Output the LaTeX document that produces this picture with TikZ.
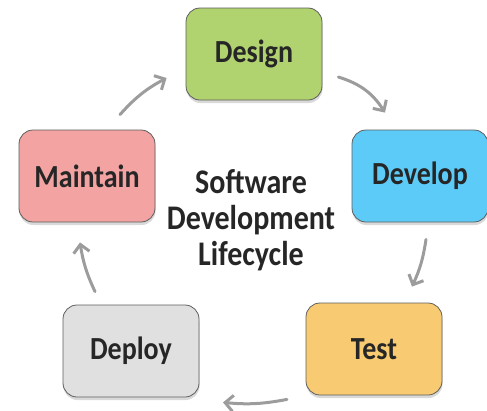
\documentclass[tikz,border=0pt]{standalone}
\usepackage{fontspec}
\setmainfont{Carlito}
\usepackage{xcolor}
\usepackage{tikz}
\usetikzlibrary{
  arrows.meta,
  shadows
}

\definecolor{designgreen}{HTML}{B0D36F}
\definecolor{developblue}{HTML}{5CCBF8}
\definecolor{testorange}{HTML}{F8CB72}
\definecolor{deploygray}{HTML}{E0E0E0}
\definecolor{maintainpink}{HTML}{F2A3A2}
\definecolor{boxline}{HTML}{5E5E5E}
\definecolor{arrowgray}{HTML}{9C9C9C}
\definecolor{inkgray}{HTML}{262626}

\newcommand{\tallword}[1]{\scalebox{1}[1.15]{#1}}

\tikzset{
  phase/.style={
    rectangle,
    rounded corners=14pt,
    draw=boxline,
    line width=0.8pt,
    minimum width=136pt,
    minimum height=92pt,
    text=inkgray,
    font=\fontsize{28}{34}\selectfont\bfseries,
    drop shadow={shadow xshift=0.5pt, shadow yshift=-3pt, opacity=0.3}
  },
  flow/.style={
    draw=arrowgray,
    line width=3pt,
    line cap=round,
    -{Straight Barb[length=8pt,width=16pt,line width=3pt]}
  }
}

\begin{document}
\begin{tikzpicture}[x=1pt,y=-1pt]

\useasboundingbox (0,0) rectangle (487,410);

% the five phases
\node[phase, fill=designgreen]  (design)   at (254,54)  {\tallword{Design}};
\node[phase, fill=developblue]  (develop)  at (420,176) {\tallword{Develop}};
\node[phase, fill=testorange]   (test)     at (374,349) {\tallword{Test}};
\node[phase, fill=deploygray]   (deploy)   at (131,351) {\tallword{Deploy}};
\node[phase, fill=maintainpink] (maintain) at (87,176)  {\tallword{Maintain}};

% title in the middle
\node[text=inkgray, align=center, font=\fontsize{30}{36}\selectfont\bfseries]
  (sdlc) at (251,220)
  {\tallword{Software}\\ \tallword{Development}\\ \tallword{Lifecycle}};

% arrows round the cycle
\draw[flow] ([shift={(33,-15)}]maintain.north) to[bend left=10] ([shift={(-19,24)}]design.west);
\draw[flow] ([shift={(16,23)}]design.east)     to[bend left=20] ([shift={(-35,-17)}]develop.north);
\draw[flow] ([shift={(6,17)}]develop.south)    to[bend left=8]  ([shift={(38,-16)}]test.north);
\draw[flow] ([shift={(-87,4)}]test.south)      to[bend left=8]  ([shift={(92,5)}]deploy.south);
\draw[flow] ([shift={(-36,-13)}]deploy.north)  to[bend left=8]  ([shift={(-7,20)}]maintain.south);

\end{tikzpicture}
\end{document}
